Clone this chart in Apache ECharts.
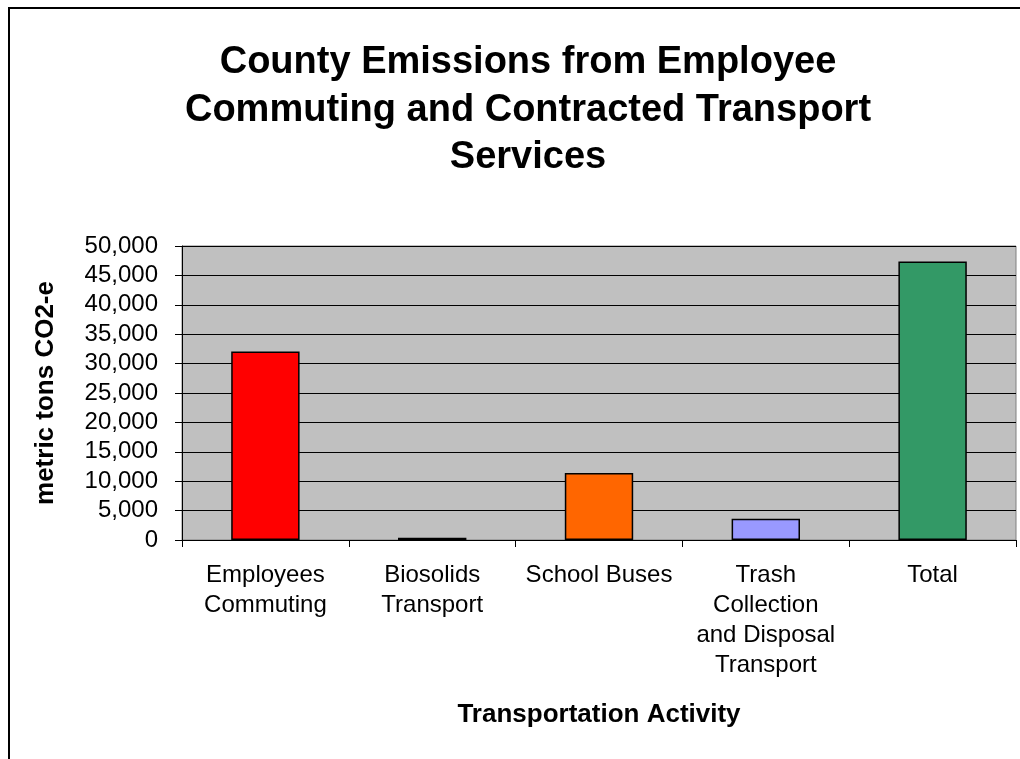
<!DOCTYPE html>
<html>
<head>
<meta charset="utf-8">
<style>
  html, body { margin: 0; padding: 0; background: #fff; }
  #chart { width: 1020px; height: 759px; }
</style>
<script src="https://cdn.jsdelivr.net/npm/echarts@6/dist/echarts.min.js"></script>
</head>
<body>
<div id="chart"></div>
<script>
// Emissions by transportation activity, metric tons CO2-e
const categories = [
  'Employees\nCommuting',
  'Biosolids\nTransport',
  'School Buses',
  'Trash\nCollection\nand Disposal\nTransport',
  'Total'
];
const emissions = [32050, 400, 11400, 3600, 47350];
const barColors = ['#FF0000', '#000000', '#FF6600', '#9999FF', '#339966'];
const yTicks = { min: 0, max: 50000, step: 5000 };

const font = 'Liberation Sans, Arial, sans-serif';
const chart = echarts.init(document.getElementById('chart'));

chart.setOption({
  backgroundColor: '#fff',
  animation: false,
  title: {
    text: 'County Emissions from Employee\nCommuting and Contracted Transport\nServices',
    left: 523,
    top: 34,
    textAlign: 'center',
    textStyle: {
      fontFamily: font,
      fontWeight: 'bold',
      fontSize: 38,
      lineHeight: 47.5,
      color: '#000'
    }
  },
  graphic: [{
    type: 'rect',
    shape: { x: 9, y: 8, width: 1100, height: 1000 },
    style: { fill: 'none', stroke: '#000', lineWidth: 2 },
    z: 100
  }],
  grid: {
    left: 182, top: 246, right: 4, bottom: 219,
    show: true,
    backgroundColor: '#C0C0C0',
    borderColor: '#808080',
    borderWidth: 1
  },
  xAxis: {
    type: 'category',
    data: categories,
    name: 'Transportation Activity',
    nameLocation: 'middle',
    nameGap: 162,
    nameTextStyle: { fontFamily: font, fontWeight: 'bold', fontSize: 26, color: '#000' },
    axisLine: { show: true, lineStyle: { color: '#000', width: 1 } },
    axisTick: { show: true, alignWithLabel: false, length: 7, lineStyle: { color: '#000' } },
    axisLabel: {
      interval: 0,
      margin: 20,
      fontFamily: font,
      fontSize: 24,
      lineHeight: 30,
      color: '#000',
      align: 'center'
    },
    splitLine: { show: false }
  },
  yAxis: {
    type: 'value',
    min: yTicks.min,
    max: yTicks.max,
    interval: yTicks.step,
    name: 'metric tons CO2-e',
    nameLocation: 'middle',
    nameGap: 123,
    nameRotate: 90,
    nameTextStyle: { fontFamily: font, fontWeight: 'bold', fontSize: 26, color: '#000' },
    axisLine: { show: true, lineStyle: { color: '#000', width: 1 } },
    axisTick: { show: true, length: 7, lineStyle: { color: '#000' } },
    axisLabel: {
      margin: 24,
      fontFamily: font,
      fontSize: 24,
      color: '#000',
      formatter: v => v.toLocaleString('en-US')
    },
    splitLine: { show: true, lineStyle: { color: '#000', width: 1 } }
  },
  series: [{
    type: 'bar',
    data: emissions.map((v, i) => ({
      value: v,
      itemStyle: { color: barColors[i] }
    })),
    barWidth: '41%',
    itemStyle: { borderColor: '#000', borderWidth: 1.5 }
  }]
});
</script>
</body>
</html>
